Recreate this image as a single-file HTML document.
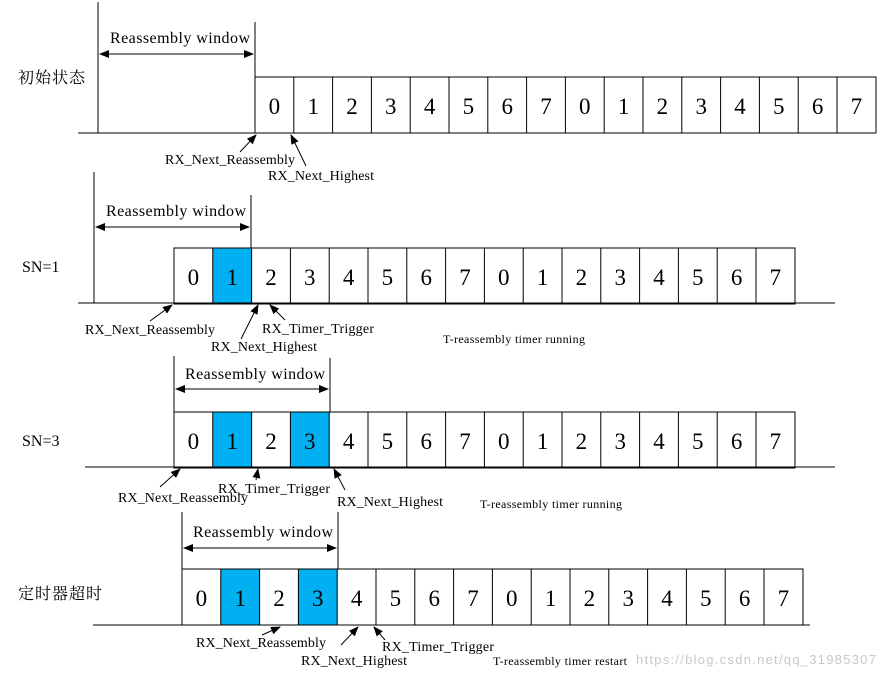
<!DOCTYPE html>
<html><head><meta charset="utf-8"><style>
html,body{margin:0;padding:0;background:#fff;}
svg{display:block;}
text{font-family:"Liberation Serif","Noto Serif CJK SC",serif;fill:#000;}
.d{font-size:23px;text-anchor:middle;}
.l{font-size:14px;}
.w{font-size:16px;}
.s{font-size:12px;}
.c{font-family:"Liberation Serif","Noto Serif CJK SC",serif;font-size:16px;}
</style></head><body>
<svg width="885" height="677" viewBox="0 0 885 677" xmlns="http://www.w3.org/2000/svg">
<defs>
<marker id="a" markerWidth="10" markerHeight="8" refX="9" refY="4" orient="auto" markerUnits="userSpaceOnUse"><path d="M0,0 L10,4 L0,8 z" fill="#000"/></marker>
<marker id="b" markerWidth="10" markerHeight="8" refX="1" refY="4" orient="auto" markerUnits="userSpaceOnUse"><path d="M10,0 L0,4 L10,8 z" fill="#000"/></marker>
<g id="cells">
<rect x="174" y="0" width="621" height="56" fill="none" stroke="#000" stroke-width="1"/>
<path d="M212.8,0V56M251.6,0V56M290.4,0V56M329.2,0V56M368,0V56M406.8,0V56M445.6,0V56M484.4,0V56M523.2,0V56M562,0V56M600.8,0V56M639.6,0V56M678.4,0V56M717.2,0V56M756,0V56" stroke="#000" stroke-width="1"/>
</g>
<g id="nums">
<text class="d" x="193.4" y="37">0</text><text class="d" x="232.2" y="37">1</text><text class="d" x="271" y="37">2</text><text class="d" x="309.8" y="37">3</text><text class="d" x="348.6" y="37">4</text><text class="d" x="387.4" y="37">5</text><text class="d" x="426.2" y="37">6</text><text class="d" x="465" y="37">7</text><text class="d" x="503.8" y="37">0</text><text class="d" x="542.6" y="37">1</text><text class="d" x="581.4" y="37">2</text><text class="d" x="620.2" y="37">3</text><text class="d" x="659" y="37">4</text><text class="d" x="697.8" y="37">5</text><text class="d" x="736.6" y="37">6</text><text class="d" x="775.4" y="37">7</text>
</g>
</defs>

<!-- Row 1 -->
<text class="c" x="18" y="83" textLength="67">初始状态</text>
<line x1="98" y1="2" x2="98" y2="133" stroke="#000"/>
<line x1="255" y1="22" x2="255" y2="77" stroke="#000"/>
<line x1="100" y1="54" x2="253" y2="54" stroke="#000" marker-start="url(#b)" marker-end="url(#a)"/>
<text class="w" x="110" y="43" textLength="140">Reassembly window</text>
<g transform="translate(81,77)"><use href="#cells"/><use href="#nums"/></g>
<line x1="78" y1="133" x2="875" y2="133" stroke="#000"/>
<line x1="240" y1="152" x2="256" y2="135" stroke="#000" marker-end="url(#a)"/>
<line x1="306" y1="166" x2="291" y2="135" stroke="#000" marker-end="url(#a)"/>
<text class="l" x="165" y="164" textLength="130">RX_Next_Reassembly</text>
<text class="l" x="268" y="180" textLength="106">RX_Next_Highest</text>

<!-- Row 2 -->
<text class="c" x="22" y="272">SN=1</text>
<line x1="94" y1="172" x2="94" y2="303" stroke="#000"/>
<line x1="251" y1="195" x2="251" y2="248" stroke="#000"/>
<line x1="96" y1="227" x2="249" y2="227" stroke="#000" marker-start="url(#b)" marker-end="url(#a)"/>
<text class="w" x="106" y="216" textLength="140">Reassembly window</text>
<rect x="212.8" y="248" width="38.8" height="55" fill="#00b0f0"/>
<g transform="translate(0,248)"><use href="#cells"/><use href="#nums"/></g>
<line x1="78" y1="303" x2="835" y2="303" stroke="#000"/>
<line x1="150" y1="321" x2="172" y2="305" stroke="#000" marker-end="url(#a)"/>
<line x1="241" y1="339" x2="258" y2="305" stroke="#000" marker-end="url(#a)"/>
<line x1="285" y1="320" x2="270" y2="305" stroke="#000" marker-end="url(#a)"/>
<text class="l" x="85" y="334" textLength="130">RX_Next_Reassembly</text>
<text class="l" x="262" y="333" textLength="112">RX_Timer_Trigger</text>
<text class="l" x="211" y="351" textLength="106">RX_Next_Highest</text>
<text class="s" x="443" y="343" textLength="142">T-reassembly timer running</text>

<!-- Row 3 -->
<text class="c" x="22" y="446">SN=3</text>
<line x1="174" y1="356" x2="174" y2="412" stroke="#000"/>
<line x1="330" y1="358" x2="330" y2="412" stroke="#000"/>
<line x1="176" y1="389" x2="328" y2="389" stroke="#000" marker-start="url(#b)" marker-end="url(#a)"/>
<text class="w" x="185" y="379" textLength="140">Reassembly window</text>
<rect x="212.8" y="412" width="38.8" height="55" fill="#00b0f0"/>
<rect x="290.4" y="412" width="38.8" height="55" fill="#00b0f0"/>
<g transform="translate(0,412)"><use href="#cells"/><use href="#nums"/></g>
<line x1="85" y1="467" x2="835" y2="467" stroke="#000"/>
<line x1="160" y1="487" x2="180" y2="469" stroke="#000" marker-end="url(#a)"/>
<line x1="256" y1="480" x2="258" y2="469" stroke="#000" marker-end="url(#a)"/>
<line x1="345" y1="490" x2="334" y2="469" stroke="#000" marker-end="url(#a)"/>
<text class="l" x="218" y="493" textLength="112">RX_Timer_Trigger</text>
<text class="l" x="118" y="502" textLength="130">RX_Next_Reassembly</text>
<text class="l" x="337" y="506" textLength="106">RX_Next_Highest</text>
<text class="s" x="480" y="508" textLength="142">T-reassembly timer running</text>

<!-- Row 4 -->
<text class="c" x="18" y="599" textLength="84">定时器超时</text>
<line x1="182" y1="512" x2="182" y2="569" stroke="#000"/>
<line x1="338" y1="512" x2="338" y2="569" stroke="#000"/>
<line x1="184" y1="548" x2="336" y2="548" stroke="#000" marker-start="url(#b)" marker-end="url(#a)"/>
<text class="w" x="193" y="537" textLength="140">Reassembly window</text>
<rect x="220.8" y="569" width="38.8" height="56" fill="#00b0f0"/>
<rect x="298.4" y="569" width="38.8" height="56" fill="#00b0f0"/>
<g transform="translate(8,569)"><use href="#cells"/><use href="#nums"/></g>
<line x1="93" y1="625" x2="810" y2="625" stroke="#000"/>
<line x1="262" y1="635" x2="280" y2="627" stroke="#000" marker-end="url(#a)"/>
<line x1="341" y1="645" x2="358" y2="627" stroke="#000" marker-end="url(#a)"/>
<line x1="385" y1="640" x2="374" y2="627" stroke="#000" marker-end="url(#a)"/>
<text class="l" x="196" y="647" textLength="130">RX_Next_Reassembly</text>
<text class="l" x="382" y="651" textLength="112">RX_Timer_Trigger</text>
<text class="l" x="301" y="665" textLength="106">RX_Next_Highest</text>
<text class="s" x="493" y="665" textLength="134">T-reassembly timer restart</text>
<text x="636" y="664" style="font-family:'Liberation Sans',sans-serif;font-size:13px;fill:#c8c8c8" textLength="240">https://blog.csdn.net/qq_31985307</text>
</svg>
</body></html>
